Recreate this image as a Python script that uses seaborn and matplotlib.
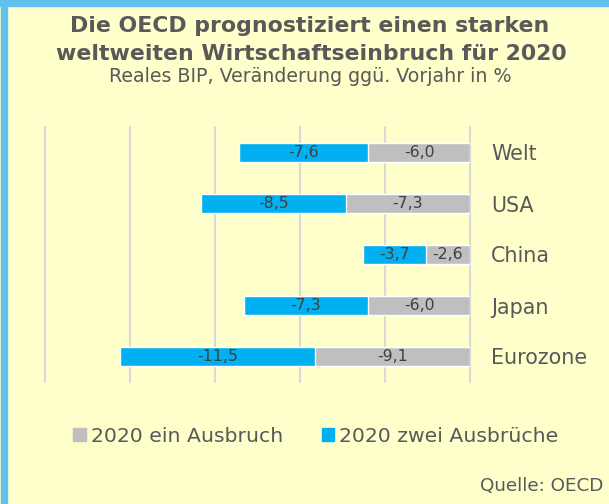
import matplotlib
matplotlib.use("Agg")
import matplotlib.pyplot as plt
from matplotlib.patches import Patch, Rectangle
import seaborn as sns
import pandas as pd

# Data (real GDP change 2020 in %, OECD)
regions = ["Welt", "USA", "China", "Japan", "Eurozone"]
ein_ausbruch = [-6.0, -7.3, -2.6, -6.0, -9.1]
zwei_ausbrueche = [-7.6, -8.5, -3.7, -7.3, -11.5]

grey = "#BFBFBF"
blue = "#00B0F0"
txt = "#595959"
bg = "#FFFFCC"

df = pd.DataFrame({"region": regions, "ein": ein_ausbruch, "zwei": zwei_ausbrueche})
df["total"] = df["ein"] + df["zwei"]  # blue bar is stacked after the grey one

sns.set_style("white")
plt.rcParams["font.family"] = ["DejaVu Sans"]

fig = plt.figure(figsize=(6.09, 5.04), dpi=100, facecolor=bg)
ax = fig.add_axes([45 / 609, 1 - 382 / 504, 425 / 609, 255 / 504])
ax.set_facecolor(bg)

sns.barplot(data=df, y="region", x="total", color=blue, orient="h",
            width=0.39, saturation=1, ax=ax)
sns.barplot(data=df, y="region", x="ein", color=grey, orient="h",
            width=0.39, saturation=1, ax=ax)

for i, (e, z) in enumerate(zip(ein_ausbruch, zwei_ausbrueche)):
    ax.text(e / 2, i, f"{e:.1f}".replace(".", ","), ha="center", va="center",
            fontsize=11.3, color="#404040")
    ax.text(e + z / 2, i, f"{z:.1f}".replace(".", ","), ha="center", va="center",
            fontsize=11.3, color="#404040")

ax.set_xlim(-25, 0)
ax.set_xticks([-25, -20, -15, -10, -5, 0])
ax.grid(axis="x", color="#D9D9D9", linewidth=1.5)
for gl in ax.get_xgridlines():
    gl.set_clip_on(False)
ax.set_axisbelow(True)
ax.tick_params(axis="x", length=0, labelbottom=False)
ax.yaxis.tick_right()
ax.tick_params(axis="y", length=0, pad=15, labelsize=14.9, labelcolor=txt)
ax.set_xlabel("")
ax.set_ylabel("")
for s in ax.spines.values():
    s.set_visible(False)

# Border at top and left
fig.patches.append(Rectangle((0, 1 - 6 / 504), 1, 6 / 504, transform=fig.transFigure,
                             color="#63C1EE", zorder=0))
fig.patches.append(Rectangle((1 / 609, 0), 6 / 609, 1, transform=fig.transFigure,
                             color="#63C1EE", zorder=0))

fig.text(310 / 609, 1 - 32.5 / 504, "Die OECD prognostiziert einen starken",
         ha="center", va="baseline", fontsize=15.8, fontweight="bold", color=txt)
fig.text(311 / 609, 1 - 60.5 / 504, "weltweiten Wirtschaftseinbruch für 2020",
         ha="center", va="baseline", fontsize=15.8, fontweight="bold", color=txt)
fig.text(310 / 609, 1 - 82.5 / 504, "Reales BIP, Veränderung ggü. Vorjahr in %",
         ha="center", va="baseline", fontsize=13.7, color=txt)

handles = [Patch(color=grey, label="2020 ein Ausbruch"),
           Patch(color=blue, label="2020 zwei Ausbrüche")]
fig.legend(handles=handles, loc="center", bbox_to_anchor=(316 / 609, 1 - 436 / 504),
           ncol=2, frameon=False, fontsize=14.7, labelcolor=txt,
           handlelength=0.6, handleheight=0.6, handletextpad=0.25, columnspacing=1.9)

fig.text(603 / 609, 1 - 491 / 504, "Quelle: OECD", ha="right", va="baseline",
         fontsize=13.2, color=txt)

fig.savefig("out.png", dpi=100, facecolor=bg)
